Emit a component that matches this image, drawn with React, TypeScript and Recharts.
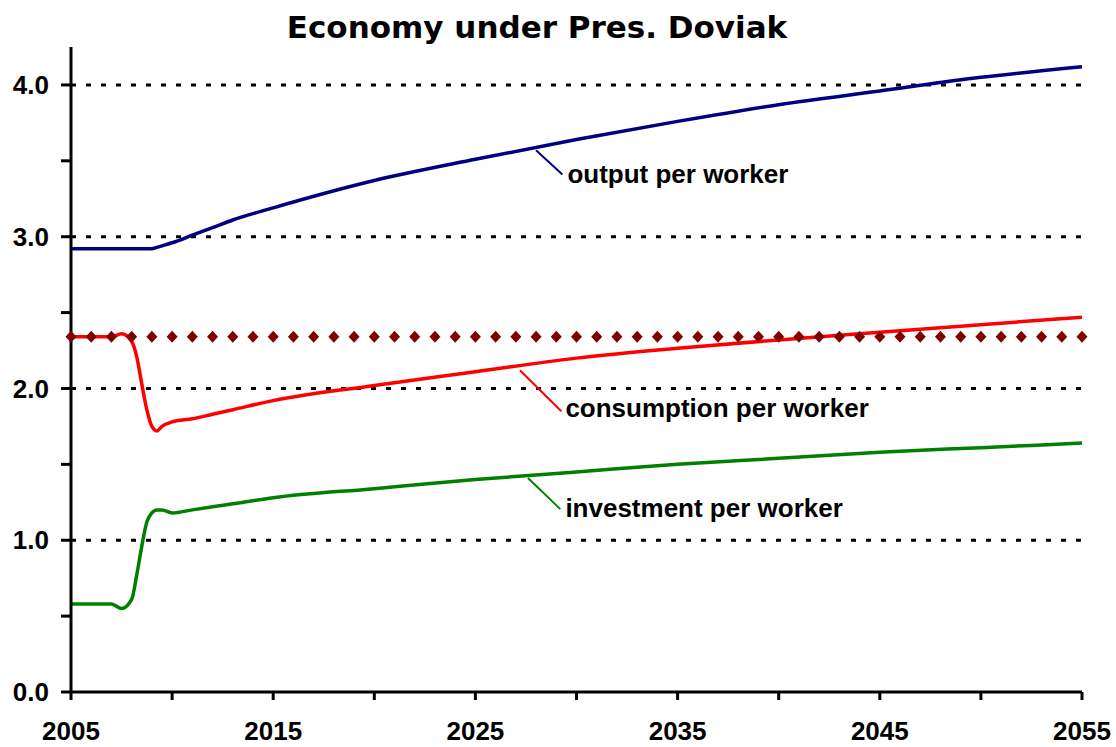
import { Line, LineChart, XAxis, YAxis, ReferenceLine, ReferenceDot } from "recharts";

// years sampled for the three model series (denser around the 2008 shock)
const years = [
  2005, 2006, 2007, 2007.5, 2008, 2008.25, 2008.5, 2008.75, 2009, 2009.25, 2009.5, 2010, 2011, 2012, 2013,
  2015, 2020, 2025, 2030, 2035, 2040, 2045, 2050, 2055,
];
const output = [
  2.92, 2.92, 2.92, 2.92, 2.92, 2.92, 2.92, 2.92, 2.92, 2.93, 2.94, 2.96, 3.01, 3.06, 3.11,
  3.19, 3.37, 3.51, 3.64, 3.76, 3.87, 3.96, 4.05, 4.12,
];
const consumption = [
  2.34, 2.34, 2.34, 2.36, 2.31, 2.21, 2.03, 1.86, 1.75, 1.72, 1.75, 1.78, 1.8, 1.83, 1.86,
  1.92, 2.02, 2.11, 2.2, 2.265, 2.32, 2.37, 2.42, 2.47,
];
const investment = [
  0.58, 0.58, 0.58, 0.55, 0.61, 0.77, 0.96, 1.12, 1.18, 1.2, 1.2, 1.18, 1.2, 1.22, 1.24,
  1.28, 1.34, 1.4, 1.45, 1.5, 1.54, 1.58, 1.61, 1.64,
];

// the diamond-marked reference level, one point per year
const benchmarkYears = [
  2005, 2006, 2007, 2008, 2009, 2010, 2011, 2012, 2013, 2014, 2015, 2016, 2017, 2018, 2019, 2020, 2021,
  2022, 2023, 2024, 2025, 2026, 2027, 2028, 2029, 2030, 2031, 2032, 2033, 2034, 2035, 2036, 2037, 2038,
  2039, 2040, 2041, 2042, 2043, 2044, 2045, 2046, 2047, 2048, 2049, 2050, 2051, 2052, 2053, 2054, 2055,
];
const benchmark = [
  2.34, 2.34, 2.34, 2.34, 2.34, 2.34, 2.34, 2.34, 2.34, 2.34, 2.34, 2.34, 2.34, 2.34, 2.34, 2.34, 2.34,
  2.34, 2.34, 2.34, 2.34, 2.34, 2.34, 2.34, 2.34, 2.34, 2.34, 2.34, 2.34, 2.34, 2.34, 2.34, 2.34, 2.34,
  2.34, 2.34, 2.34, 2.34, 2.34, 2.34, 2.34, 2.34, 2.34, 2.34, 2.34, 2.34, 2.34, 2.34, 2.34, 2.34, 2.34,
];

const xTicks = [2005, 2010, 2015, 2020, 2025, 2030, 2035, 2040, 2045, 2050, 2055];
const xLabels = [2005, 2015, 2025, 2035, 2045, 2055];
const yTicks = [0, 0.5, 1, 1.5, 2, 2.5, 3, 3.5, 4];
const yLabels = [0, 1, 2, 3, 4];
const gridValues = [1, 2, 3, 4];

const rows = years.map((year, i) => ({
  year,
  output: output[i],
  consumption: consumption[i],
  investment: investment[i],
}));
const benchmarkRows = benchmarkYears.map((year, i) => ({ year, level: benchmark[i] }));

// callouts: leader line (data coords) and where the text starts
const callouts = [
  { text: "output per worker", color: "#000080", from: [2028.0, 3.57], to: [2029.3, 3.41], at: [2029.55, 3.355] },
  { text: "consumption per worker", color: "#ff0000", from: [2027.2, 2.12], to: [2029.25, 1.85], at: [2029.45, 1.815] },
  { text: "investment per worker", color: "#008000", from: [2027.6, 1.41], to: [2029.2, 1.205], at: [2029.45, 1.155] },
];

const FONT = "'Liberation Sans', Arial, sans-serif";
const tickStyle = { fill: "#000", fontSize: 26, fontWeight: "bold", fontFamily: FONT };

function Diamond(props: any) {
  const { cx, cy } = props;
  if (cx == null || cy == null) return null;
  return <path d={`M${cx},${cy - 6} L${cx + 5.5},${cy} L${cx},${cy + 6} L${cx - 5.5},${cy} Z`} fill="#800000" />;
}

export default function App() {
  return (
    <div style={{ position: "absolute", left: 0, top: 0, width: 1116, height: 747, background: "#fff" }}>
      <div
        style={{
          position: "absolute",
          left: 537 - 300,
          width: 600,
          top: 8,
          textAlign: "center",
          fontFamily: "'DejaVu Sans', Verdana, sans-serif",
          fontWeight: "bold",
          fontSize: 31,
          lineHeight: "38px",
          color: "#000",
        }}
      >
        Economy under Pres. Doviak
      </div>
      <LineChart width={1116} height={747} data={rows} margin={{ top: 47, right: 34, left: 0, bottom: 0 }}>
        {gridValues.map((v) => (
          <ReferenceLine key={v} y={v} stroke="#000" strokeWidth={3} strokeDasharray="5 10" />
        ))}
        <XAxis
          dataKey="year"
          type="number"
          domain={[2005, 2055]}
          ticks={xTicks}
          interval={0}
          height={55}
          tickSize={8}
          tickMargin={22}
          tickFormatter={(v: number) => (xLabels.includes(v) ? String(v) : "")}
          tick={tickStyle}
          axisLine={{ stroke: "#000", strokeWidth: 3 }}
          tickLine={{ stroke: "#000", strokeWidth: 3 }}
        />
        <YAxis
          type="number"
          domain={[0, 4.25]}
          ticks={yTicks}
          interval={0}
          width={71}
          tickSize={10}
          tickMargin={12}
          tickFormatter={(v: number) => (yLabels.includes(v) ? v.toFixed(1) : "")}
          tick={tickStyle}
          axisLine={{ stroke: "#000", strokeWidth: 3 }}
          tickLine={{ stroke: "#000", strokeWidth: 3 }}
        />
        <Line
          data={benchmarkRows}
          dataKey="level"
          stroke="none"
          dot={<Diamond />}
          activeDot={false}
          isAnimationActive={false}
        />
        <Line dataKey="output" type="monotone" stroke="#000080" strokeWidth={3.5} dot={false} isAnimationActive={false} />
        <Line dataKey="consumption" type="monotone" stroke="#ff0000" strokeWidth={3.5} dot={false} isAnimationActive={false} />
        <Line dataKey="investment" type="monotone" stroke="#008000" strokeWidth={3.5} dot={false} isAnimationActive={false} />
        {callouts.map((c) => (
          <ReferenceLine
            key={c.text + "-leader"}
            segment={[
              { x: c.from[0], y: c.from[1] },
              { x: c.to[0], y: c.to[1] },
            ]}
            stroke={c.color}
            strokeWidth={2}
          />
        ))}
        {callouts.map((c) => (
          <ReferenceDot
            key={c.text}
            x={c.at[0]}
            y={c.at[1]}
            shape={(p: any) => (
              <text x={p.cx} y={p.cy} fill="#000" fontSize={26} fontWeight="bold" fontFamily={FONT}>
                {c.text}
              </text>
            )}
          />
        ))}
      </LineChart>
    </div>
  );
}
